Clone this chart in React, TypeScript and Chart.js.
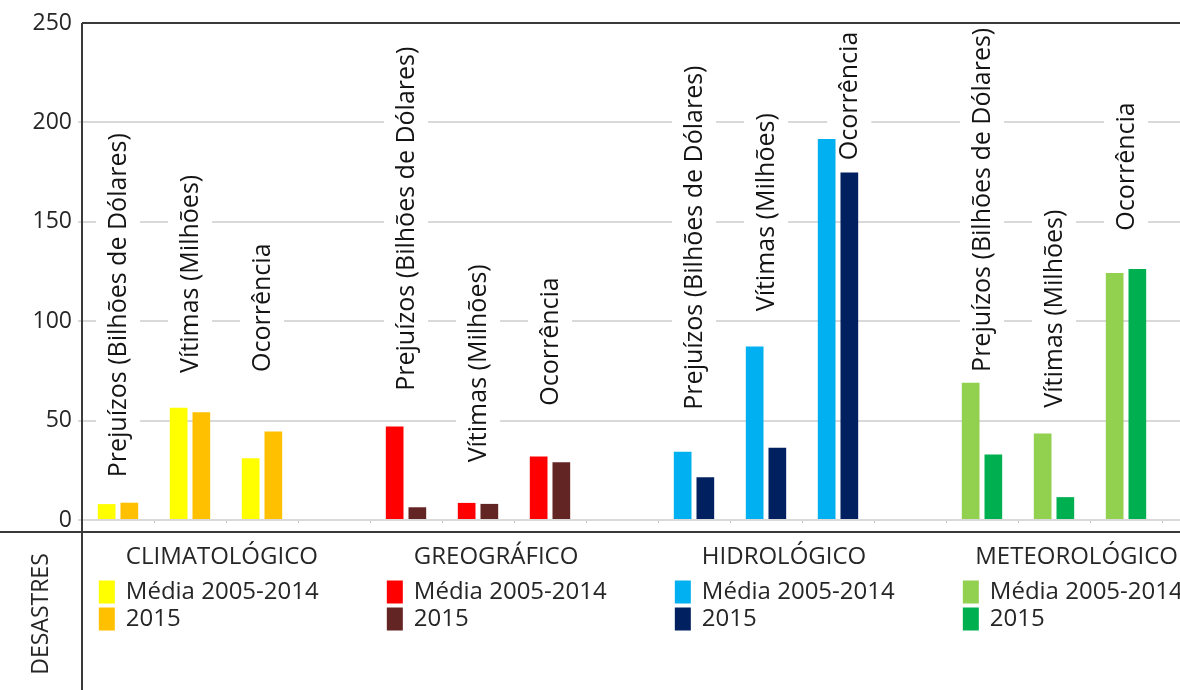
import React, { useEffect, useRef } from "react";
import { Chart, registerables } from "chart.js";

Chart.register(...registerables);

// ---------- data ----------
const groups = ["CLIMATOLÓGICO", "GREOGRÁFICO", "HIDROLÓGICO", "METEOROLÓGICO"];
const measures = ["Prejuízos (Bilhões de Dólares)", "Vítimas (Milhões)", "Ocorrência"];
const seriesNames = ["Média 2005-2014", "2015"];

const climatologicoMedia = [8, 56.5, 31];
const climatologico2015 = [8.7, 54.2, 44.5];
const geograficoMedia = [47, 8.6, 32];
const geografico2015 = [6.4, 8.1, 29];
const hidrologicoMedia = [34.3, 87.3, 191.6];
const hidrologico2015 = [21.5, 36.3, 174.8];
const meteorologicoMedia = [69, 43.5, 124.2];
const meteorologico2015 = [33, 11.5, 126.2];

// value (on the y axis) where each vertical caption begins
const captionStart = [21.5, 74, 74.5, 65, 29, 57.5, 55.5, 105, 181, 74.5, 56.5, 145.5];

const yTicks = [0, 50, 100, 150, 200, 250];
const sideTitle = "DESASTRES";

// ---------- styles ----------
const mediaColors = ["#FFFF00", "#FF0000", "#00B0F0", "#92D050"];
const colors2015 = ["#FFC000", "#632523", "#002060", "#00B050"];
const FONT = "'Open Sans', 'Noto Sans', sans-serif";
const VIEW_W = 1180;
const VIEW_H = 690;
const CANVAS_W = 1240;

// ---------- derived tables ----------
const mediaGroups = [climatologicoMedia, geograficoMedia, hidrologicoMedia, meteorologicoMedia];
const groups2015 = [climatologico2015, geografico2015, hidrologico2015, meteorologico2015];

const labels: string[] = [];
const mediaData: (number | null)[] = [];
const data2015: (number | null)[] = [];
const mediaBg: string[] = [];
const bg2015: string[] = [];
groups.forEach((_, gi) => {
  measures.forEach((m, mi) => {
    labels.push(m);
    mediaData.push(mediaGroups[gi][mi]);
    data2015.push(groups2015[gi][mi]);
    mediaBg.push(mediaColors[gi]);
    bg2015.push(colors2015[gi]);
  });
  labels.push("");
  mediaData.push(null);
  data2015.push(null);
  mediaBg.push(mediaColors[gi]);
  bg2015.push(colors2015[gi]);
});

const overlay = {
  id: "overlay",
  beforeDatasetsDraw(chart: any) {
    const ctx = chart.ctx;
    const xs = chart.scales.x;
    const ys = chart.scales.y;
    const meta15 = chart.getDatasetMeta(1);
    ctx.save();
    ctx.font = `25px ${FONT}`;
    let k = 0;
    labels.forEach((lab, i) => {
      if (!lab) return;
      const start = captionStart[k++];
      let cx = xs.getPixelForValue(i);
      const mv = mediaData[i] as number;
      if (mv > start) cx = meta15.data[i].x;
      const yb = ys.getPixelForValue(start);
      const w = ctx.measureText(lab).width;
      ctx.save();
      ctx.translate(cx, yb);
      ctx.rotate(-Math.PI / 2);
      ctx.fillStyle = "#ffffff";
      ctx.fillRect(-5, -22, w + 10, 44);
      ctx.fillStyle = "#141414";
      ctx.textAlign = "left";
      ctx.textBaseline = "middle";
      ctx.fillText(lab, 0, 1);
      ctx.restore();
    });
    ctx.restore();
  },
  afterDraw(chart: any) {
    const ctx = chart.ctx;
    const area = chart.chartArea;
    const metaM = chart.getDatasetMeta(0);
    ctx.save();
    // frame lines
    ctx.strokeStyle = "#3a3a3a";
    ctx.lineWidth = 2;
    ctx.beginPath();
    ctx.moveTo(area.left, area.top);
    ctx.lineTo(CANVAS_W, area.top);
    ctx.moveTo(area.left, area.top);
    ctx.lineTo(area.left, VIEW_H);
    ctx.moveTo(0, 532);
    ctx.lineTo(CANVAS_W, 532);
    ctx.stroke();

    // side title
    ctx.font = `23px ${FONT}`;
    ctx.fillStyle = "#262626";
    ctx.textAlign = "center";
    ctx.textBaseline = "middle";
    ctx.save();
    ctx.translate(41, 614);
    ctx.rotate(-Math.PI / 2);
    ctx.fillText(sideTitle, 0, 0);
    ctx.restore();

    // group legends
    ctx.font = `24px ${FONT}`;
    ctx.textAlign = "left";
    groups.forEach((g, gi) => {
      const bar = metaM.data[gi * 4];
      const left = bar.x - bar.width / 2 + 1;
      const tw = ctx.measureText(g).width;
      let tx = left + 27;
      if (tx + tw > VIEW_W - 2) tx = VIEW_W - 2 - tw;
      ctx.fillStyle = "#262626";
      ctx.fillText(g, tx, 557);
      [mediaColors[gi], colors2015[gi]].forEach((c, si) => {
        const cy = 592 + si * 27;
        ctx.fillStyle = c;
        ctx.fillRect(left, cy - 11.5, 16, 23);
        ctx.fillStyle = "#262626";
        ctx.fillText(seriesNames[si], left + 27, cy);
      });
    });
    ctx.restore();
  },
};

export default function App() {
  const ref = useRef<HTMLCanvasElement>(null);
  useEffect(() => {
    const chart = new Chart(ref.current as HTMLCanvasElement, {
      type: "bar",
      data: {
        labels,
        datasets: [
          { label: seriesNames[0], data: mediaData, backgroundColor: mediaBg, borderWidth: 0 },
          { label: seriesNames[1], data: data2015, backgroundColor: bg2015, borderWidth: 0 },
        ],
      },
      options: {
        responsive: false,
        animation: false,
        devicePixelRatio: 1,
        layout: { padding: { top: 23, bottom: 170, left: 0, right: 6 } },
        plugins: { legend: { display: false }, tooltip: { enabled: false } },
        datasets: { bar: { categoryPercentage: 0.63, barPercentage: 0.78 } },
        scales: {
          x: {
            type: "category",
            ticks: { display: false },
            grid: { display: true, drawOnChartArea: false, drawTicks: true, tickLength: 3, color: "#c8c8c8", lineWidth: 1 },
            border: { display: false },
            afterFit: (s: any) => { s.height = 0; },
          },
          y: {
            min: 0,
            max: 250,
            afterBuildTicks: (s: any) => { s.ticks = yTicks.map((v) => ({ value: v })); },
            ticks: { font: { family: FONT, size: 23 }, color: "#262626", padding: 6 },
            grid: {
              color: (c: any) => (c.tick && c.tick.value === 250 ? "#3a3a3a" : "#d9d9d9"),
              tickColor: (c: any) => (c.tick && c.tick.value === 250 ? "rgba(0,0,0,0)" : "#d9d9d9"),
              lineWidth: 2,
              tickLength: 4,
            },
            border: { display: false },
            afterFit: (s: any) => { s.width = 82; },
          },
        },
      },
      plugins: [overlay],
    } as any);
    return () => chart.destroy();
  }, []);
  return (
    <div style={{ position: "fixed", left: 0, top: 0, width: VIEW_W, height: VIEW_H, overflow: "hidden", background: "#fff" }}>
      <canvas ref={ref} width={CANVAS_W} height={VIEW_H} style={{ display: "block", width: CANVAS_W, height: VIEW_H }} />
    </div>
  );
}
